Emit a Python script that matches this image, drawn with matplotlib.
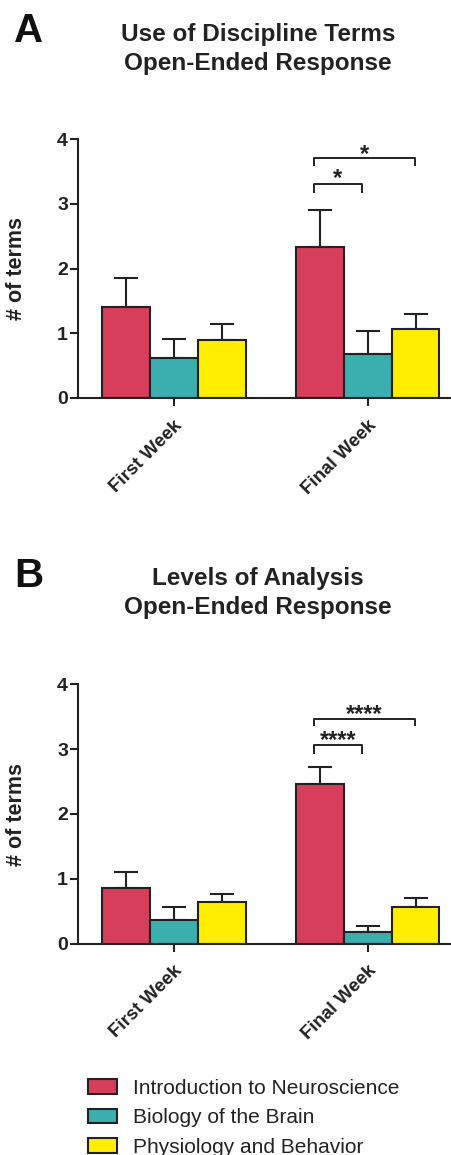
import matplotlib
matplotlib.use("Agg")
import matplotlib.pyplot as plt
import matplotlib.transforms as mtransforms
import numpy as np

plt.rcParams['font.family'] = ['Liberation Sans', 'DejaVu Sans']

groups = ["First Week", "Final Week"]
series = ["Introduction to Neuroscience", "Biology of the Brain", "Physiology and Behavior"]
colors = ["#D63E5C", "#3AAFAE", "#FFEE00"]

# Panel A: Use of Discipline Terms
a_means = [[1.40, 2.33], [0.62, 0.68], [0.90, 1.06]]
a_err = [[0.45, 0.58], [0.29, 0.36], [0.24, 0.24]]
# Panel B: Levels of Analysis
b_means = [[0.86, 2.47], [0.37, 0.18], [0.64, 0.56]]
b_err = [[0.25, 0.26], [0.20, 0.10], [0.13, 0.15]]

# significance brackets: (series_from, series_to, y_bar, y_leg, star_centre, label)
a_sig = [(0, 1, 3.31, 3.17, 3.45, "*"), (0, 2, 3.71, 3.59, 3.83, "*")]
b_sig = [(0, 1, 3.06, 2.93, 3.19, "****"), (0, 2, 3.46, 3.36, 3.60, "****")]

titles = ["Use of Discipline Terms\nOpen-Ended Response",
          "Levels of Analysis\nOpen-Ended Response"]
letters = ["A", "B"]

W, H = 451, 1155
fig = plt.figure(figsize=(W / 100, H / 100), dpi=100)

bw = 0.247
x = np.arange(len(groups))
INK = "#222222"

def panel(rect, means, errs, sig, title, letter, title_y, letter_y):
    ax = fig.add_axes(rect)
    for i, (m, e, c) in enumerate(zip(means, errs, colors)):
        pos = x + (i - 1) * bw
        ax.bar(pos, m, bw, color=c, edgecolor=INK, linewidth=1.5,
               label=series[i], zorder=2)
        ax.errorbar(pos, m, yerr=[np.zeros(len(e)), e], fmt="none",
                    ecolor=INK, elinewidth=1.5, capsize=8.5,
                    capthick=1.5, zorder=1)
    star_fs = 17
    star_off = 0.45 * star_fs * 100 / 72 / (rect[3] * H) * 4
    for s0, s1, yb, yl, ys, lab in sig:
        x0 = x[1] + (s0 - 1) * bw - 0.03
        if s1 == 1:
            x1 = x[1] + (s1 - 1) * bw - 0.03
        else:
            x1 = x[1] + (s1 - 1) * bw - 0.005
        ax.plot([x0, x0, x1, x1], [yl, yb, yb, yl], color=INK,
                lw=1.4, solid_capstyle="butt", clip_on=False)
        ax.text((x0 + x1) / 2, ys - star_off, lab, ha="center", va="baseline",
                fontsize=star_fs, fontweight="bold", color=INK)
    ax.set_xlim(-0.495, 1.43)
    ax.set_ylim(0, 4)
    ax.set_yticks([0, 1, 2, 3, 4])
    ax.set_xticks(x)
    ax.set_xticklabels(groups, rotation=45, ha="right", rotation_mode="anchor",
                       fontsize=13.5, fontweight="bold", color=INK)
    shift = mtransforms.ScaledTranslation(-5 / 100, 0, fig.dpi_scale_trans)
    for lbl in ax.get_xticklabels():
        lbl.set_transform(lbl.get_transform() + shift)
    for lbl in ax.get_yticklabels():
        lbl.set_fontweight("bold")
        lbl.set_fontsize(14)
        lbl.set_color(INK)
    ax.tick_params(axis="both", width=1.5, length=5.5, color=INK)
    ax.tick_params(axis="x", pad=8)
    ax.tick_params(axis="y", pad=1.5)
    for sp in ["top", "right"]:
        ax.spines[sp].set_visible(False)
    for sp in ["left", "bottom"]:
        ax.spines[sp].set_linewidth(1.5)
        ax.spines[sp].set_color(INK)
    ax.set_ylabel("# of terms", fontsize=15.5, fontweight="bold", color=INK)
    ax.yaxis.set_label_coords(-0.135, 0.5)
    fig.text(258 / W, 1 - title_y / H, title, ha="center", va="center",
             fontsize=17.5, fontweight="bold", color=INK, linespacing=1.3)
    fig.text(28.5 / W, 1 - letter_y / H, letter, ha="center", va="baseline",
             fontsize=29, fontweight="bold", color="#111111")
    return ax

axA = panel([77.7 / W, 1 - 398 / H, 1 - 77.7 / W, (398 - 139.3) / H],
            a_means, a_err, a_sig, titles[0], letters[0], 49, 42)
axB = panel([77.7 / W, 1 - 943.7 / H, 1 - 77.7 / W, (943.7 - 684.3) / H],
            b_means, b_err, b_sig, titles[1], letters[1], 593, 587)

handles, labels = axA.get_legend_handles_labels()
fig.legend(handles, labels, loc="upper left", bbox_to_anchor=(88 / W, 1 - 1079 / H),
           frameon=False, fontsize=15, handlelength=1.4, handleheight=0.7,
           handletextpad=0.75, labelspacing=0.5, borderaxespad=0, borderpad=0,
           labelcolor=INK)

fig.savefig("out.png", dpi=100)
